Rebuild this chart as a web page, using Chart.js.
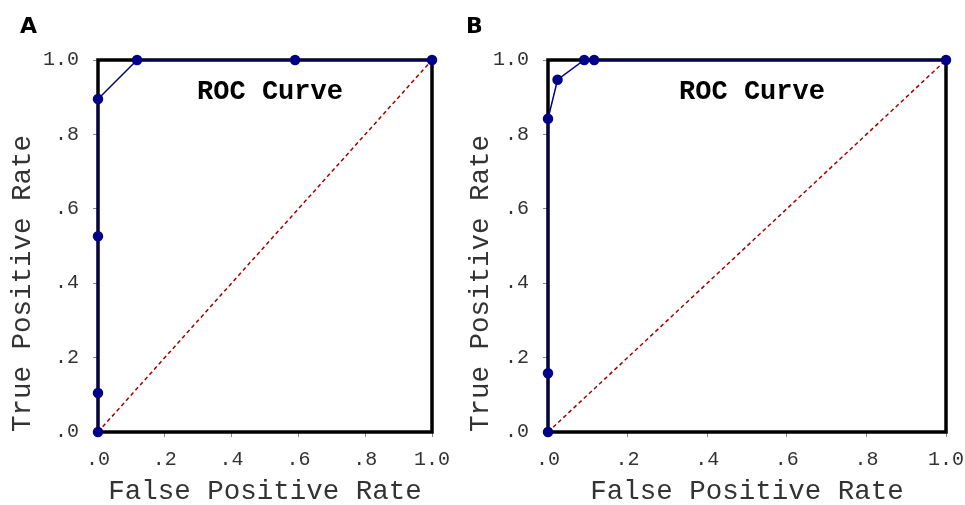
<!DOCTYPE html>
<html>
<head>
<meta charset="utf-8">
<script src="https://cdn.jsdelivr.net/npm/chart.js@4/dist/chart.umd.min.js"></script>
<style>
  html, body { margin: 0; padding: 0; background: #fff; }
  #wrap { position: relative; width: 965px; height: 505px; overflow: hidden; }
  .panel { position: absolute; top: 0; height: 505px; }
  .tag { position: absolute; top: 13px; font: bold 22px "DejaVu Sans", sans-serif; color: #000; }
</style>
</head>
<body>
<div id="wrap">
  <div class="panel" style="left:0;width:480px"><canvas id="rocA"></canvas></div>
  <div class="panel" style="left:458px;width:507px"><canvas id="rocB"></canvas></div>
  <div class="tag" style="left:20px">A</div>
  <div class="tag" style="left:466px">B</div>
</div>
<script>
// ROC points
const fprA = [0, 0, 0, 0, 0.117, 0.59, 1.0];
const tprA = [0, 0.105, 0.526, 0.895, 1.0, 1.0, 1.0];
const fprB = [0, 0, 0, 0.024, 0.091, 0.116, 1.0];
const tprB = [0, 0.158, 0.842, 0.947, 1.0, 1.0, 1.0];
const chanceX = [0, 1];
const chanceY = [0, 1];
const tickValues = [0, 0.2, 0.4, 0.6, 0.8, 1.0];

const mono = "'Liberation Mono', 'Courier New', monospace";
const tickLabel = (v) => (v >= 1 ? '1.0' : v.toFixed(1).replace(/^0/, ''));

const frameAndTitle = {
  id: 'frameAndTitle',
  beforeDatasetsDraw(chart) {
    const { ctx, chartArea: a } = chart;
    ctx.save();
    ctx.strokeStyle = '#000';
    ctx.lineWidth = 3.5;
    ctx.strokeRect(a.left, a.top, a.right - a.left, a.bottom - a.top);
    ctx.fillStyle = '#000';
    ctx.font = 'bold 27px ' + mono;
    ctx.textAlign = 'center';
    ctx.textBaseline = 'middle';
    ctx.fillText('ROC Curve', (a.left + a.right) / 2 + 5, a.top + 32);
    ctx.restore();
  }
};

function makeRoc(id, fpr, tpr, yWidth, padRight) {
  new Chart(document.getElementById(id), {
    type: 'scatter',
    data: {
      datasets: [
        {
          data: chanceX.map((x, i) => ({ x, y: chanceY[i] })),
          showLine: true,
          borderColor: '#a00000',
          borderWidth: 1.5,
          borderDash: [4, 3],
          pointRadius: 0,
          clip: false,
          order: 2
        },
        {
          data: fpr.map((x, i) => ({ x, y: tpr[i] })),
          showLine: true,
          borderColor: '#000088',
          backgroundColor: '#000088',
          borderWidth: 1.5,
          pointRadius: 4.5,
          clip: false,
          order: 1
        }
      ]
    },
    options: {
      responsive: false,
      animation: false,
      layout: { padding: { left: 0, top: 60, right: padRight, bottom: 0 } },
      plugins: { legend: { display: false }, tooltip: { enabled: false } },
      scales: {
        x: {
          type: 'linear', min: 0, max: 1,
          afterBuildTicks: (s) => { s.ticks = tickValues.map((value) => ({ value })); },
          afterFit: (s) => { s.height = 73; s.paddingLeft = 0; s.paddingRight = 0; },
          border: { display: false },
          grid: { drawOnChartArea: false, color: '#888', tickLength: 5 },
          ticks: { callback: tickLabel, color: '#333', padding: 11, maxRotation: 0, font: { family: mono, size: 20 } },
          title: { display: true, text: 'False Positive Rate', color: '#333', padding: 0, font: { family: mono, size: 27.5, lineHeight: 1 } }
        },
        y: {
          type: 'linear', min: 0, max: 1,
          afterBuildTicks: (s) => { s.ticks = tickValues.map((value) => ({ value })); },
          afterFit: (s) => { s.width = yWidth; s.paddingTop = 0; s.paddingBottom = 0; },
          border: { display: false },
          grid: { drawOnChartArea: false, color: '#888', tickLength: 5 },
          ticks: { callback: tickLabel, color: '#333', padding: 14, font: { family: mono, size: 20 } },
          title: { display: true, text: 'True Positive Rate', align: 'start', color: '#333', padding: { top: 9 }, font: { family: mono, size: 27.5, lineHeight: 1 } }
        }
      }
    },
    plugins: [frameAndTitle]
  });
}

document.getElementById('rocA').width = 480;
document.getElementById('rocA').height = 505;
document.getElementById('rocB').width = 507;
document.getElementById('rocB').height = 505;
makeRoc('rocA', fprA, tprA, 98, 48);
makeRoc('rocB', fprB, tprB, 90, 19);
</script>
</body>
</html>
